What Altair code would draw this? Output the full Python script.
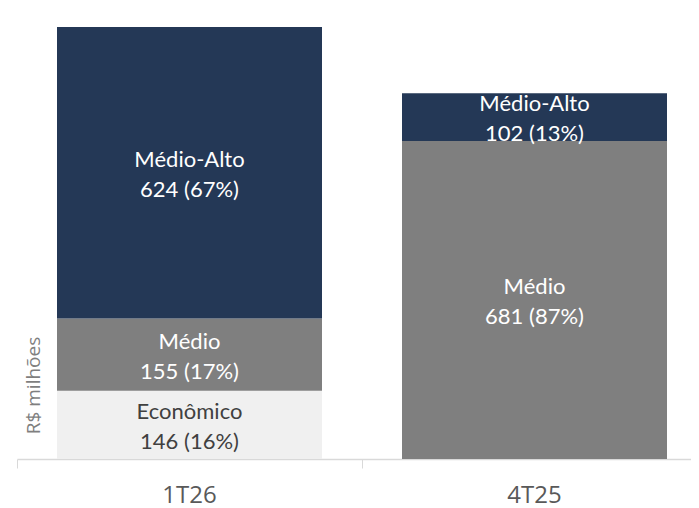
import altair as alt
import pandas as pd

periods = ["1T26", "1T26", "1T26", "4T25", "4T25"]
segments = ["Econômico", "Médio", "Médio-Alto", "Médio", "Médio-Alto"]
values = [146, 155, 624, 681, 102]
shares = ["16%", "17%", "67%", "87%", "13%"]
order = [0, 1, 2, 1, 2]

seg_names = ["Econômico", "Médio", "Médio-Alto"]
seg_colors = ["#f0f0f0", "#7f7f7f", "#243856"]
text_colors = ["#404040", "#ffffff", "#ffffff"]

df = pd.DataFrame({"period": periods, "segment": segments, "value": values,
                   "share": shares, "ord": order})
df["label"] = df["segment"] + "\n" + df["value"].astype(str) + " (" + df["share"] + ")"
df["top"] = df.groupby("period")["value"].cumsum()
df["mid"] = df["top"] - df["value"] / 2

x_enc = alt.X("period:N", sort=["1T26", "4T25"],
              scale=alt.Scale(range=[0, 690], paddingInner=0, paddingOuter=0),
              axis=alt.Axis(title=None, labelAngle=0, bandPosition=0,
                            labelFont="Open Sans", labelFontSize=24,
                            labelColor="#595959", labelPadding=15,
                            tickSize=9, tickColor="#d9d9d9", domainColor="#d9d9d9",
                            domainWidth=1.5, grid=False))

y_scale = alt.Scale(domain=[0, 925], nice=False, zero=True)

bars = alt.Chart(df).mark_bar(size=265).encode(
    x=x_enc,
    y=alt.Y("value:Q", stack="zero", scale=y_scale,
            axis=alt.Axis(title="R$ milhões", labels=False, ticks=False,
                          domain=False, grid=False, titleX=16, titleY=385 - 27,
                          titleAngle=-90, titleBaseline="middle",
                          titleAlign="center",
                          titleFont="Open Sans", titleFontSize=19,
                          titleFontWeight="normal", titleColor="#7f7f7f")),
    color=alt.Color("segment:N", scale=alt.Scale(domain=seg_names, range=seg_colors),
                    legend=None),
    order=alt.Order("ord:Q"),
)

labels = alt.Chart(df).mark_text(font="Lato", fontSize=22, lineHeight=30,
                                 lineBreak="\n", dy=-13,
                                 baseline="middle", align="center").encode(
    x=alt.X("period:N", sort=["1T26", "4T25"]),
    y=alt.Y("mid:Q", scale=y_scale),
    text="label:N",
    color=alt.Color("segment:N", scale=alt.Scale(domain=seg_names, range=text_colors),
                    legend=None),
)

chart = alt.layer(bars, labels).resolve_scale(color="independent").properties(
    width=674, height=432,
    autosize="none",
    padding={"left": 9, "top": 19, "right": 0, "bottom": 49},
    background="white",
).configure_view(stroke=None)

chart.save("out.html", embed_options={"renderer": "svg", "actions": False})
